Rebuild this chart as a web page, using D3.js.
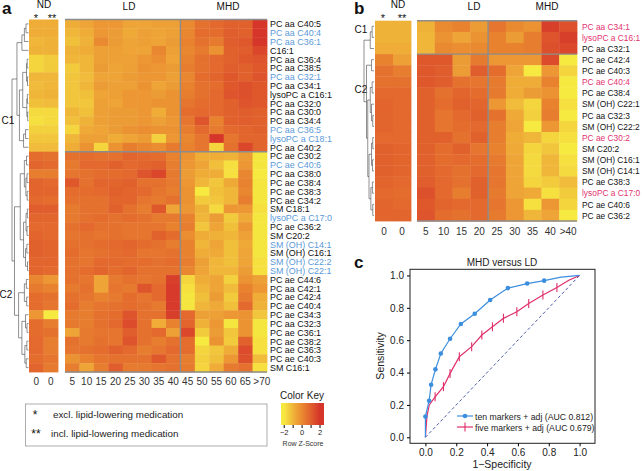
<!DOCTYPE html>
<html>
<head>
<meta charset="utf-8">
<script src="https://cdn.jsdelivr.net/npm/d3@7"></script>
<style>
body{margin:0;background:#fff}
svg{font-family:"Liberation Sans",Arial,sans-serif}
</style>
</head>
<body>
<svg id="fig" width="642" height="471"></svg>
<script>
// ---------- panel a data ----------
let rowsA = ["PC aa C40:5","PC aa C40:4","PC aa C36:1","C16:1","PC aa C36:4","PC aa C38:5","PC aa C32:1","PC aa C34:1",
  "lysoPC a C16:1","PC aa C32:0","PC aa C30:0","PC aa C34:4","PC aa C36:5","lysoPC a C18:1","PC aa C40:2",
  "PC ae C30:2","PC ae C40:6","PC aa C38:0","PC ae C38:4","PC ae C38:3","PC ae C34:2","SM C18:1","lysoPC a C17:0",
  "PC ae C36:2","SM C20:2","SM (OH) C14:1","SM (OH) C16:1","SM (OH) C22:2","SM (OH) C22:1","PC ae C44:6","PC aa C42:1",
  "PC ae C42:4","PC ae C40:4","PC ae C34:3","PC aa C32:3","PC ae C36:1","PC ae C38:2","PC ae C36:3","PC ae C40:3","SM C16:1"]
let blueA = ["PC aa C40:4","PC aa C36:1","PC aa C32:1","PC aa C36:5","lysoPC a C18:1","PC ae C40:6","lysoPC a C17:0",
  "SM (OH) C14:1","SM (OH) C22:2","SM (OH) C22:1"]
let ndCols = ["0","0"]
let colsA = ["5","10","15","20","25","30","35","40","45","50","55","60","65",">70"]
let splitA = 15   // rows in C1
let valsA = [
 [-0.8,-0.8,-0.8,-0.6,-0.3,-0.3,-0.6,-0.6,-0.5,-0.5,0,0.6,0.8,1.0,1.0,2.0],
 [-0.8,-0.8,-1.0,-0.8,-0.3,-0.4,-0.7,-0.5,-0.6,-0.5,0.1,0.7,0.7,1.1,1.0,2.0],
 [-1.0,-0.9,-1.2,-0.9,0,-0.4,-0.6,-0.5,-0.6,-0.4,0.2,0.6,0.4,1.1,1.2,2.0],
 [-0.9,-0.9,-0.9,-0.8,-0.5,-0.5,-0.6,-0.6,0.1,-0.5,0.1,0.4,-0.2,1.0,1.1,1.6],
 [-1.6,-1.4,-1.0,-1.0,-0.5,-0.5,-0.5,-0.3,-0.1,-0.6,0.2,0.6,0.8,1.0,1.2,1.3],
 [-1.6,-1.4,-1.4,-1.0,-0.4,-0.6,-0.5,-0.2,-0.3,-0.4,0.3,0.6,0.8,1.1,1.0,1.2],
 [-1.0,-1.0,-1.3,-1.1,-0.6,-0.6,-0.4,-0.3,-0.3,-0.5,0.1,0.7,0.9,1.2,1.0,1.3],
 [-1.1,-1.0,-1.3,-1.0,-0.4,-0.5,-0.5,-0.2,-0.6,-0.4,0.2,0.6,0.7,1.2,1.4,1.2],
 [-1.0,-0.9,-1.3,-1.2,-0.6,-0.5,-0.3,-0.3,-0.4,-0.2,0.3,0.6,0.8,1.3,1.4,1.2],
 [-1.2,-1.1,-1.3,-1.3,-0.5,-0.6,-0.3,-0.3,-0.2,-0.2,0.5,0.7,0.8,1.0,1.3,1.2],
 [-1.7,-1.7,-1.0,-1.2,-0.5,-0.4,-0.4,-0.3,-0.8,-0.2,0.7,0.8,0.8,1.0,1.1,1.0],
 [-1.8,-1.7,-1.2,-0.9,-0.5,-0.4,-0.4,-0.3,-0.5,-0.3,0.5,1.3,0.2,1.0,1.1,1.0],
 [-1.5,-1.5,-1.6,-0.7,-0.6,-0.4,-0.2,-0.1,-0.2,-0.2,0.3,0.8,0.4,0.8,0.9,1.0],
 [-1.3,-1.3,-1.0,-0.5,-0.5,-0.8,-0.6,-0.4,-1.5,-0.3,0.1,0.5,2.0,0.5,0.9,0.9],
 [-1.1,-1.1,-0.8,-0.2,-1.6,-0.2,0.3,0.1,-0.1,0.4,0.2,0.5,-1.6,0.6,1.6,0.9],
 [0.7,0.6,0.6,0.7,0.6,0.6,0.9,0.8,0.7,0.2,-0.2,-0.8,-0.8,-0.9,-0.4,-1.9],
 [0.9,0.8,0.4,0.8,0.8,1.0,0.8,0.9,1.0,0.3,-0.3,-0.6,-1.2,-1.8,-0.3,-1.9],
 [0.3,0.3,0.5,0.6,0.7,0.7,0.8,1.3,1.6,0.4,-0.4,-0.8,-0.8,-1.8,0.1,-2.0],
 [0.9,0.8,1.2,0.6,0.9,0.9,1.0,0.6,0.6,0.4,-0.3,-1.0,-1.3,-0.7,0.2,-1.9],
 [0.9,0.9,0.7,0.7,0.8,1.0,0.9,0.8,0.5,0.3,-0.2,-2.0,-1.2,-1.0,0.1,-1.9],
 [0.8,0.7,0.6,0.6,0.6,0.9,0.9,0.5,0.4,0.6,-0.2,-1.4,-1.3,-1.0,0.3,-1.9],
 [1.1,1.1,0.4,0.6,0.6,1.0,0.6,0.3,1.2,-0.6,-0.3,-0.9,-1.7,-0.3,-0.3,-1.8],
 [0.9,0.9,0.4,0.6,0.7,0.6,0.7,0.6,0.4,0.4,0.2,-1.0,-0.4,-1.4,-0.7,-1.9],
 [0.8,0.8,0.6,0.8,0.6,0.6,0.5,0.5,0.5,0.2,0.3,-1.3,-0.6,-1.2,-0.3,-1.9],
 [0.9,0.8,0.5,0.6,0.5,0.6,0.5,0.5,1.0,0.7,-0.1,-0.8,-0.9,-1.0,-0.5,-1.9],
 [1.0,0.9,0.6,0.6,0.7,0.8,0.9,0.7,0.6,0.3,0.2,-1.0,-0.6,-1.2,-0.7,-1.9],
 [1.0,0.9,0.7,0.5,0.6,0.7,0.8,0.5,0.5,0.6,0.2,-0.8,-0.7,-1.2,-0.6,-1.9],
 [0.9,0.9,0.6,0.5,0.8,0.8,0.7,0.7,0.6,0.7,0.3,-0.5,-1.0,-1.2,-0.6,-1.8],
 [0.9,0.8,0.6,0.7,0.9,0.7,0.9,0.6,0.6,0.6,0.1,-0.6,-1.0,-1.0,-0.4,-1.8],
 [0.1,-0.3,0.6,0.5,-0.6,0.4,0.6,0.5,0.6,1.8,-1.6,-0.8,-0.6,-1.5,-0.2,-0.5],
 [0.4,0.2,0.4,0.6,-0.6,0.5,0.4,1.3,0.8,1.9,-1.8,-1.0,-0.6,-1.1,0.2,-0.3],
 [0.7,0.6,0.6,0.5,0.2,0.4,0.7,0.5,0.8,1.9,-1.9,-1.2,-0.4,-1.4,0.4,-0.8],
 [0.7,0.5,0.7,0.3,0.5,0.6,0.7,0.6,0.4,1.9,-1.9,-1.0,-0.7,-1.2,0.8,-0.9],
 [-0.3,-2.0,0.4,0.3,0.6,0.7,1.3,0.6,0.6,1.8,0.8,-0.5,-0.5,-0.3,-0.2,-1.3],
 [0.7,0.3,0.4,0.3,0.6,0.8,1.5,0.6,-0.8,0.2,0.9,-0.9,-0.3,-1.9,-0.2,-1.9],
 [0.7,0.6,-0.6,0.4,0.5,0.5,1.1,0.6,0.8,-0.5,1.6,-1.4,-0.4,-1.3,-0.2,-1.9],
 [0.8,0.3,0.6,0.4,0.6,0.5,1.3,0.6,0.3,0.6,0.7,-2.0,-0.2,-1.4,1.0,-1.8],
 [0.8,0.3,0.5,0.6,0.7,1.0,0.8,0.3,0.5,0.8,0.7,-1.6,-1.3,-0.8,1.5,-1.8],
 [0.7,0.5,-0.2,0.2,0.5,0.6,0.6,0.6,1.2,0.6,0.3,-1.5,-1.2,-0.3,1.4,-1.1],
 [0.9,0.4,0.3,-0.6,0.3,1.1,0.4,0.4,0.5,0.6,0.4,-1.6,-0.8,0.4,0.6,-1.8]
]
// dendrogram: [height, left, right], leaves = row index
let treeA = [10,
  [7, [4, [2.5, [1.5, 0, 1], 2], 3],
      [5.5, [3.5, [1.2, [0.8, 4, 5], [0.6, 6, 7]], [1.0, [0.7, 8, 9], [0.5, 10, 11]]], [3, [1.8, 12, 13], 14]]],
  [8.5, [5, [2.5, [1.2, 15, 16], [1.6, [0.9, 17, 18], [0.8, 19, 20]]],
            [3, [1.5, [0.7, 21, 22], [0.9, 23, 24]], [1.8, [1.0, 25, 26], [0.6, 27, 28]]]],
        [6, [2.5, [1.3, 29, 30], [1.1, 31, 32]],
            [4, [1.8, 33, [0.9, 34, 35]], [2.2, [1.0, 36, 37], [1.4, 38, 39]]]]]]

// ---------- panel b data ----------
let rowsB = ["PC aa C34:1","lysoPC a C16:1","PC aa C32:1","PC ae C42:4","PC ae C40:3","PC ae C40:4","PC ae C38:4",
  "SM (OH) C22:1","PC aa C32:3","SM (OH) C22:2","PC ae C30:2","SM C20:2","SM (OH) C16:1","SM (OH) C14:1",
  "PC ae C38:3","lysoPC a C17:0","PC ae C40:6","PC ae C36:2"]
let pinkB = ["PC aa C34:1","lysoPC a C16:1","PC ae C40:4","PC ae C30:2","lysoPC a C17:0"]
let colsB = ["5","10","15","20","25","30","35","40",">40"]
let splitB = 3
let valsB = [
 [-0.9,-0.9,-0.9,0,0.2,-0.4,0.5,0,-0.2,1.8,1.4],
 [-0.9,-0.9,-1.0,-0.2,-0.6,-0.2,0.2,-0.4,0.3,1.3,1.8],
 [-0.8,-0.8,-1.0,0,-0.1,0,0.2,0.2,0.3,1.4,1.6],
 [0.2,-0.5,1.2,1.2,-0.4,0.4,-0.3,-0.3,-0.3,1.5,-2.0],
 [0.6,0.3,1.2,1.1,-0.4,1.1,0.7,-0.6,-2.0,-0.3,-1.6],
 [0.6,0.6,1.2,1.1,0.6,0.5,0.4,-0.8,-0.8,0.2,-2.0],
 [0.8,0.8,1.0,0.6,0.9,0.7,0.4,-0.8,-0.4,-0.2,-2.0],
 [0.9,0.8,1.0,0.7,1.0,0.9,-0.3,-1.1,-1.6,0.2,-1.8],
 [0.9,0.8,1.0,0.5,0.8,1.0,0.6,-0.7,-1.5,0.3,-2.0],
 [0.9,0.8,1.0,0.5,0.7,0.8,0.3,-0.6,-2.0,-0.3,-1.6],
 [0.8,0.8,1.0,1.0,0.6,1.0,0.3,-0.8,-1.0,-1.6,-1.8],
 [1.0,0.9,1.0,0.7,1.0,0.5,0.2,-0.7,-1.6,-1.3,-2.0],
 [1.0,0.9,1.0,0.7,0.8,0.7,0.4,-0.6,-1.7,-1.0,-1.8],
 [1.0,0.9,1.0,0.8,0.6,0.8,0.5,-0.6,-1.7,-1.0,-1.7],
 [0.9,0.8,1.1,0.8,0.6,1.0,0.5,-0.6,-1.6,-1.4,-1.1],
 [0.8,0.7,1.4,0.8,0.3,1.0,0.4,-0.6,-0.7,-1.8,-1.4],
 [0.9,0.8,1.2,0.9,0.8,0.8,0.5,-0.3,-1.8,-0.3,-1.6],
 [0.9,0.9,1.3,0.7,0.6,0.8,0.4,-0.3,-1.0,-0.6,-2.0]
]
let treeB = [8,
  [3, [1.5, 0, 1], 2],
  [6, [2, 3, 4], [5, [3, [1.5, 5, 6], [2, 7, [1, 8, 9]]], [4, [2, [1, 10, 11], [1.2, 12, 13]], [2.5, [1.3, 14, 15], [1, 16, 17]]]]]]

// ---------- panel c data ----------
let rocTen = [[0,0],[0,0.128],[0.024,0.226],[0.037,0.325],[0.065,0.42],[0.10,0.518],[0.16,0.609],[0.23,0.70],
  [0.32,0.763],[0.42,0.848],[0.535,0.922],[0.66,0.95],[0.77,0.968],[0.88,0.99],[1,1]]
let rocFive = [[0,0],[0.01,0.13],[0.025,0.2],[0.063,0.25],[0.117,0.313],[0.16,0.395],[0.22,0.498],[0.30,0.56],
  [0.366,0.632],[0.435,0.683],[0.506,0.735],[0.593,0.776],[0.67,0.827],[0.762,0.879],[0.853,0.926],[0.93,0.97],[1,1]]
let rocTicks = [0,0.2,0.4,0.6,0.8,1.0]

let svg = d3.select("#fig")
let heat = d3.scaleLinear().domain([-2,-1,0,1,2])
  .range(["#f6ea40","#f0b63a","#ea8a30","#e1612d","#d6362a"]).clamp(true)

function drawHeat(vals, nRows, yr, ndr, mr, cols, split) {
  let y = d3.scaleBand().domain(d3.range(nRows)).range(yr)
  let xn = d3.scaleBand().domain(d3.range(2)).range(ndr)
  let xm = d3.scaleBand().domain(cols).range(mr)
  let g = svg.append("g")
  vals.forEach((row, i) => {
    g.selectAll(null).data(row).join("rect")
      .attr("x", (d, j) => j < 2 ? xn(j) : xm(cols[j-2]))
      .attr("y", y(i))
      .attr("width", (d, j) => (j < 2 ? xn.bandwidth() : xm.bandwidth()) + 0.4)
      .attr("height", y.bandwidth() + 0.4)
      .attr("fill", d => heat(d))
  })
  let gray = "#8c8c8c"
  g.append("line").attr("x1", mr[0]).attr("x2", mr[1]).attr("y1", y(split)).attr("y2", y(split)).attr("stroke", gray).attr("stroke-width", 1.4)
  g.append("line").attr("x1", mr[0]).attr("x2", mr[1]).attr("y1", yr[0]).attr("y2", yr[0]).attr("stroke", gray).attr("stroke-width", 1.4)
  g.append("line").attr("x1", mr[0]).attr("x2", mr[1]).attr("y1", yr[1]).attr("y2", yr[1]).attr("stroke", gray).attr("stroke-width", 1.4)
  return {y, xn, xm, g}
}

function drawTree(tree, y, hx) {
  let root = d3.hierarchy(tree, d => Array.isArray(d) ? d.slice(1) : null)
  root.eachAfter(n => {
    if (!n.children) { n.py = y(n.data) + y.bandwidth()/2; n.px = hx(0) }
    else { n.py = (n.children[0].py + n.children[n.children.length-1].py)/2; n.px = hx(n.data[0]) }
  })
  let p = ""
  root.descendants().filter(n => n.children).forEach(n => {
    p += `M${n.px},${n.children[0].py}V${n.children[n.children.length-1].py}`
    n.children.forEach(c => { p += `M${n.px},${c.py}H${c.px}` })
  })
  svg.append("path").attr("d", p).attr("fill", "none").attr("stroke", "#444").attr("stroke-width", 0.6)
}

// ===== panel a =====
let A = drawHeat(valsA, 40, [19.5, 372], [29, 58], [65, 267], colsA, splitA)
svg.append("line").attr("x1", A.xm("45")).attr("x2", A.xm("45")).attr("y1", 19.5).attr("y2", 372).attr("stroke", "#8c8c8c").attr("stroke-width", 1.4)
drawTree(treeA, A.y, d3.scaleLinear([0, 10], [28.5, 12]))

svg.selectAll(null).data(rowsA).join("text")
  .attr("transform", (d, i) => `translate(270,${A.y(i) + A.y.bandwidth()/2 + 3.4}) scale(0.95,1)`)
  .attr("font-size", 9.4)
  .attr("fill", d => blueA.includes(d) ? "#5b9ad8" : "#111")
  .text(d => d)

svg.selectAll(null).data(ndCols).join("text")
  .attr("x", (d, i) => A.xn(i) + A.xn.bandwidth()/2).attr("y", 385)
  .attr("text-anchor", "middle").attr("font-size", 10).attr("fill", "#333").text(d => d)
svg.selectAll(null).data(colsA).join("text")
  .attr("x", d => A.xm(d) + A.xm.bandwidth()/2 + (d == ">70" ? 2 : 0)).attr("y", 385)
  .attr("text-anchor", "middle").attr("font-size", 10).attr("fill", "#333").text(d => d)

let headers = [["a", 2, 14, 17, "bold", "start"], ["ND", 44, 8, 10, "normal", "middle"], ["LD", 129, 10, 10, "normal", "middle"],
  ["MHD", 228, 10, 10, "normal", "middle"], ["*", 36, 22, 11, "normal", "middle"], ["**", 52, 22, 11, "normal", "middle"],
  ["C1", 8, 124, 10, "normal", "middle"], ["C2", 6, 298, 10, "normal", "middle"],
  ["b", 354, 14, 17, "bold", "start"], ["ND", 398, 8, 10, "normal", "middle"], ["LD", 474, 10, 10, "normal", "middle"],
  ["MHD", 547, 10, 10, "normal", "middle"], ["*", 383, 22, 11, "normal", "middle"], ["**", 402, 22, 11, "normal", "middle"],
  ["C1", 361, 33, 10, "normal", "middle"], ["C2", 361, 93, 10, "normal", "middle"],
  ["c", 354, 268, 17, "bold", "start"]]
svg.selectAll(null).data(headers).join("text")
  .attr("x", d => d[1]).attr("y", d => d[2]).attr("font-size", d => d[3]).attr("font-weight", d => d[4])
  .attr("text-anchor", d => d[5]).attr("fill", "#111").text(d => d[0])

// legend box
svg.append("rect").attr("x", 25.5).attr("y", 404).attr("width", 241.5).attr("height", 42)
  .attr("fill", "none").attr("stroke", "#999").attr("stroke-width", 0.8)
let notes = [["*", "excl. lipid-lowering medication", 35, 53, 418], ["**", "incl. lipid-lowering medication", 36, 51, 437]]
svg.selectAll(null).data(notes).join("text").attr("x", d => d[2]).attr("y", d => d[4] + 1)
  .attr("text-anchor", "middle").attr("font-size", 12).attr("fill", "#111").text(d => d[0])
svg.selectAll(null).data(notes).join("text").attr("x", d => d[3]).attr("y", d => d[4])
  .attr("font-size", 9.8).attr("fill", "#222").text(d => d[1])

// color key
let key = d3.scaleLinear([-2.3, 2.5], [281, 324])
let grad = svg.append("defs").append("linearGradient").attr("id", "kg")
d3.range(-2.3, 2.51, 0.1).forEach(v => grad.append("stop")
  .attr("offset", (key(v) - 281) / 43).attr("stop-color", heat(v)))
svg.append("rect").attr("x", 281).attr("y", 403).attr("width", 43).attr("height", 22).attr("fill", "url(#kg)")
svg.append("text").attr("x", 302).attr("y", 399).attr("text-anchor", "middle").attr("font-size", 10).attr("fill", "#222").text("Color Key")
svg.append("g").attr("transform", "translate(0,425)")
  .call(d3.axisBottom(key).tickValues([-2, -1, 0, 1, 2]).tickSize(3).tickFormat(d => d % 2 == 0 ? (d < 0 ? "−" + (-d) : d) : ""))
  .call(g => g.select(".domain").remove())
  .call(g => g.selectAll("text").attr("font-size", 7.5).attr("dy", "0.5em").attr("fill", "#222"))
svg.append("text").attr("x", 303).attr("y", 446).attr("text-anchor", "middle").attr("font-size", 7).attr("fill", "#333").text("Row Z-Score")

// ===== panel b =====
let B = drawHeat(valsB, 18, [20.7, 221], [375, 411], [417, 577], colsB, splitB)
svg.append("line").attr("x1", B.xm("25")).attr("x2", B.xm("25")).attr("y1", 20.7).attr("y2", 221).attr("stroke", "#8c8c8c").attr("stroke-width", 1.4)
drawTree(treeB, B.y, d3.scaleLinear([0, 8], [374, 364]))
svg.selectAll(null).data(rowsB).join("text")
  .attr("transform", (d, i) => `translate(582,${B.y(i) + B.y.bandwidth()/2 + 3.3}) scale(0.93,1)`)
  .attr("font-size", 9)
  .attr("fill", d => pinkB.includes(d) ? "#e2336f" : "#111")
  .text(d => d)
svg.selectAll(null).data(ndCols).join("text")
  .attr("x", (d, i) => B.xn(i) + B.xn.bandwidth()/2).attr("y", 235)
  .attr("text-anchor", "middle").attr("font-size", 10).attr("fill", "#333").text(d => d)
svg.selectAll(null).data(colsB).join("text")
  .attr("x", d => B.xm(d) + B.xm.bandwidth()/2).attr("y", 235)
  .attr("text-anchor", "middle").attr("font-size", 10).attr("fill", "#333").text(d => d)

// ===== panel c =====
let x = d3.scaleLinear([-0.1, 1.1], [410, 595])
let y = d3.scaleLinear([-0.037, 1.038], [443.3, 269.3])
svg.append("rect").attr("x", 410).attr("y", 269.3).attr("width", 185).attr("height", 174)
  .attr("fill", "none").attr("stroke", "#222").attr("stroke-width", 1)
svg.append("g").attr("transform", "translate(0,443.3)")
  .call(d3.axisBottom(x).tickValues(rocTicks).tickFormat(d3.format(".1f")).tickSize(3))
  .call(g => g.select(".domain").remove())
  .call(g => g.selectAll("text").attr("font-size", 10).attr("fill", "#222").attr("font-family", "Liberation Sans, Arial"))
svg.append("g").attr("transform", "translate(410,0)")
  .call(d3.axisLeft(y).tickValues(rocTicks).tickFormat(d3.format(".1f")).tickSize(3))
  .call(g => g.select(".domain").remove())
  .call(g => g.selectAll("text").attr("font-size", 10).attr("fill", "#222").attr("font-family", "Liberation Sans, Arial"))
svg.append("text").attr("x", 502).attr("y", 266).attr("text-anchor", "middle").attr("font-size", 10).attr("fill", "#222").text("MHD versus LD")
svg.append("text").attr("x", 502).attr("y", 468).attr("text-anchor", "middle").attr("font-size", 10.5).attr("fill", "#222").text("1−Specificity")
svg.append("text").attr("transform", "translate(384,356) rotate(-90)").attr("text-anchor", "middle").attr("font-size", 10.5).attr("fill", "#222").text("Sensitivity")

let line = d3.line().x(d => x(d[0])).y(d => y(d[1]))
svg.append("path").attr("d", line([[0, 0], [1, 1]])).attr("stroke", "#4858a8").attr("stroke-dasharray", "3,2.5").attr("fill", "none")
svg.append("path").attr("d", line(rocFive)).attr("stroke", "#e0306c").attr("stroke-width", 1.2).attr("fill", "none")
svg.selectAll(null).data(rocFive.slice(3, 15)).join("line")
  .attr("x1", d => x(d[0])).attr("x2", d => x(d[0])).attr("y1", d => y(d[1]) - 4.5).attr("y2", d => y(d[1]) + 4.5)
  .attr("stroke", "#e0306c").attr("stroke-width", 1.1)
svg.append("path").attr("d", line(rocTen)).attr("stroke", "#3c8ede").attr("stroke-width", 1.2).attr("fill", "none")
svg.selectAll(null).data(rocTen.slice(1, 13)).join("circle")
  .attr("cx", d => x(d[0])).attr("cy", d => y(d[1])).attr("r", 2.3).attr("fill", "#3c8ede")

let leg = [["ten markers + adj  (AUC 0.812)", "#3c8ede", 416], ["five markers + adj (AUC 0.679)", "#e0306c", 427]]
svg.selectAll(null).data(leg).join("line").attr("x1", 457).attr("x2", 473).attr("y1", d => d[2]).attr("y2", d => d[2])
  .attr("stroke", d => d[1]).attr("stroke-width", 1.2)
svg.append("circle").attr("cx", 465).attr("cy", 416).attr("r", 2.3).attr("fill", "#3c8ede")
svg.append("line").attr("x1", 465).attr("x2", 465).attr("y1", 422.5).attr("y2", 431.5).attr("stroke", "#e0306c").attr("stroke-width", 1.1)
svg.selectAll(null).data(leg).join("text").attr("x", 475).attr("y", d => d[2] + 3.5)
  .attr("font-size", 8.7).attr("fill", "#222").text(d => d[0])
</script>
</body>
</html>
